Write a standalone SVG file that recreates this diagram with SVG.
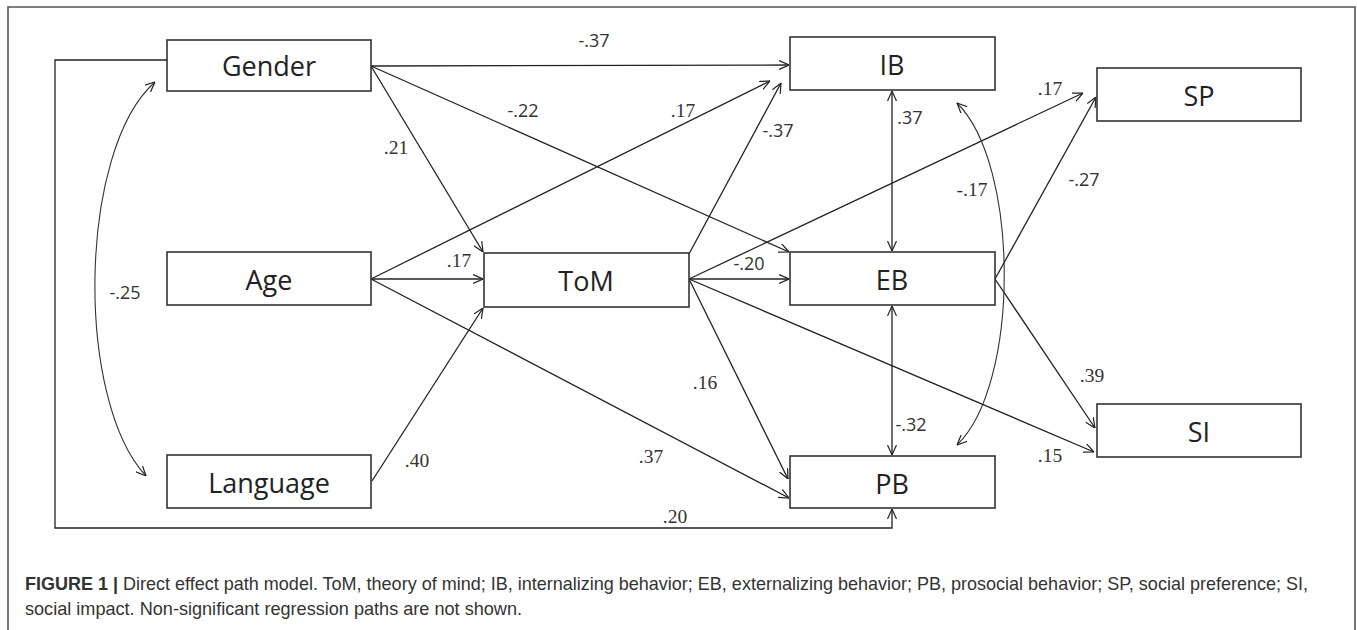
<svg xmlns="http://www.w3.org/2000/svg" width="1357" height="630" viewBox="0 0 1357 630">
<defs>
<marker id="arr" viewBox="0 0 10 10" refX="10" refY="5" markerWidth="10" markerHeight="10" markerUnits="userSpaceOnUse" orient="auto-start-reverse">
<path d="M0,0.5 L10,5 L0,9.5" fill="none" stroke="#222" stroke-width="1.2"/>
</marker>
<style>
.box{fill:#fff;stroke:#333;stroke-width:1.6}
.nl{font-family:"Open Sans","Liberation Sans",sans-serif;font-size:27px;fill:#222;text-anchor:middle}
.c{fill:none;stroke:#222;stroke-width:1.3}
.cv{fill:none;stroke:#333;stroke-width:1.1}
.ls{font-family:"Open Sans","Liberation Sans",sans-serif;font-size:18px;fill:#333;text-anchor:middle}
.lr{font-family:"Liberation Serif",serif;font-size:19.5px;fill:#333;text-anchor:middle}
.cap{font-family:"Liberation Sans",Arial,sans-serif;font-size:18.5px;fill:#333}
</style>
</defs>
<rect width="1357" height="630" fill="#fff"/>
<path d="M8,632 V7 H1355 V632" fill="none" stroke="#555" stroke-width="1.6"/>

<g id="connectors">
<path class="c" d="M167,60 H55 V528 H892 V509" marker-end="url(#arr)"/>
<path class="c" d="M371,66 L789,65" marker-end="url(#arr)"/>
<path class="c" d="M371,66 L789,252" marker-end="url(#arr)"/>
<path class="c" d="M371,66 L483,252" marker-end="url(#arr)"/>
<path class="c" d="M371,279 L770,81" marker-end="url(#arr)"/>
<path class="c" d="M371,279 L483,279" marker-end="url(#arr)"/>
<path class="c" d="M371,279 L789,498" marker-end="url(#arr)"/>
<path class="c" d="M372,481 L483,308" marker-end="url(#arr)"/>
<path class="c" d="M689,254 L781,83" marker-end="url(#arr)"/>
<path class="c" d="M689,279 L789,279" marker-end="url(#arr)"/>
<path class="c" d="M689,279 L1083,93" marker-end="url(#arr)"/>
<path class="c" d="M689,279 L788,479" marker-end="url(#arr)"/>
<path class="c" d="M689,279 L1094,452" marker-end="url(#arr)"/>
<path class="c" d="M995,279 L1096,97" marker-end="url(#arr)"/>
<path class="c" d="M995,279 L1095,428" marker-end="url(#arr)"/>
<path class="c" d="M892,91 V251" marker-start="url(#arr)" marker-end="url(#arr)"/>
<path class="c" d="M892,306 V455" marker-start="url(#arr)" marker-end="url(#arr)"/>
<path class="cv" d="M957,103 C1020,165 1020,385 957,445" marker-start="url(#arr)" marker-end="url(#arr)"/>
<path class="cv" d="M155,82 C78,150 75,400 146,476" marker-start="url(#arr)" marker-end="url(#arr)"/>
</g>

<g id="labels">
<text class="ls" x="594" y="47">-.37</text>
<text class="ls" x="523" y="117">-.22</text>
<text class="lr" x="396" y="154">.21</text>
<text class="lr" x="683" y="117">.17</text>
<text class="ls" x="778" y="137">-.37</text>
<text class="lr" x="459" y="267">.17</text>
<text class="lr" x="651" y="463">.37</text>
<text class="lr" x="417" y="467">.40</text>
<text class="ls" x="749" y="270">-.20</text>
<text class="lr" x="1050" y="95">.17</text>
<text class="lr" x="705" y="389">.16</text>
<text class="lr" x="1050" y="462">.15</text>
<text class="ls" x="1084" y="186">-.27</text>
<text class="lr" x="1092" y="382">.39</text>
<text class="ls" x="910" y="124">.37</text>
<text class="ls" x="911" y="431">-.32</text>
<text class="lr" x="972" y="196">-.17</text>
<text class="ls" x="125" y="299">-.25</text>
<text class="lr" x="675" y="523">.20</text>
</g>

<g id="node-gender"><rect class="box" x="167" y="40" width="204" height="51"/><text class="nl" x="269" y="76">Gender</text></g>
<g id="node-age"><rect class="box" x="167" y="252" width="204" height="53"/><text class="nl" x="269" y="290">Age</text></g>
<g id="node-language"><rect class="box" x="167" y="455" width="204" height="53"/><text class="nl" x="269" y="493">Language</text></g>
<g id="node-tom"><rect class="box" x="484" y="253" width="205" height="54"/><text class="nl" x="586" y="291">ToM</text></g>
<g id="node-ib"><rect class="box" x="790" y="37" width="205" height="53"/><text class="nl" x="892" y="75">IB</text></g>
<g id="node-eb"><rect class="box" x="790" y="252" width="205" height="53"/><text class="nl" x="892" y="290">EB</text></g>
<g id="node-pb"><rect class="box" x="790" y="456" width="205" height="52"/><text class="nl" x="892" y="494">PB</text></g>
<g id="node-sp"><rect class="box" x="1097" y="68" width="204" height="53"/><text class="nl" x="1199" y="106">SP</text></g>
<g id="node-si"><rect class="box" x="1097" y="404" width="204" height="53"/><text class="nl" x="1199" y="442">SI</text></g>

<g id="caption">
<text class="cap" x="25" y="590" textLength="1283" lengthAdjust="spacingAndGlyphs"><tspan font-weight="bold">FIGURE 1 |</tspan> Direct effect path model. ToM, theory of mind; IB, internalizing behavior; EB, externalizing behavior; PB, prosocial behavior; SP, social preference; SI,</text>
<text class="cap" x="25" y="615" textLength="497" lengthAdjust="spacingAndGlyphs">social impact. Non-significant regression paths are not shown.</text>
</g>
</svg>
